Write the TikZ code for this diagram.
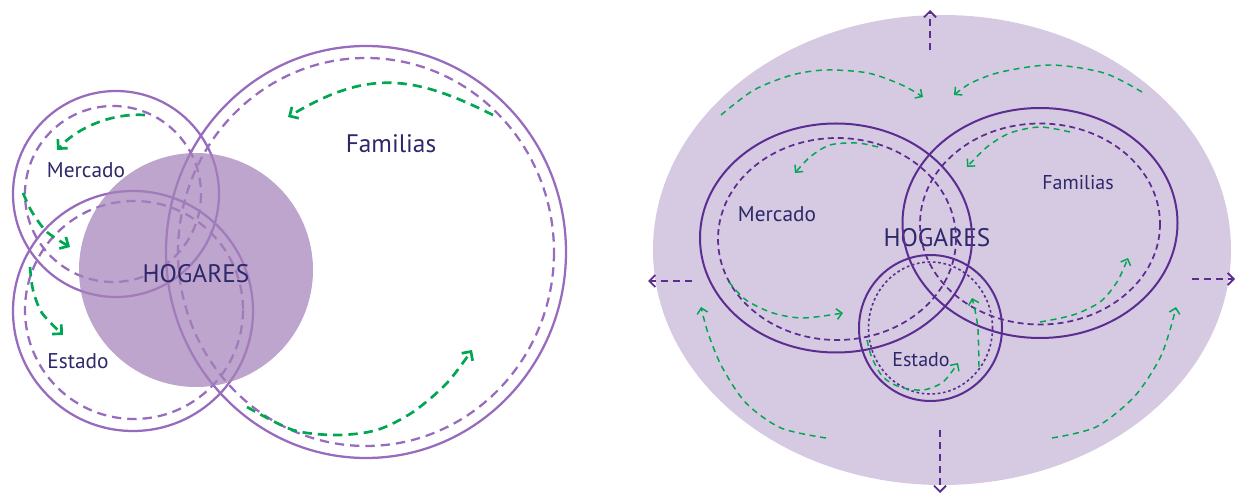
\documentclass[tikz,border=0pt]{standalone}
\usepackage{fontspec}
\setmainfont{PT Sans}
\usetikzlibrary{arrows.meta}

\definecolor{lilac}{RGB}{151,107,189}
\definecolor{plum}{RGB}{92,45,145}
\definecolor{leaf}{RGB}{0,166,81}
\definecolor{ink}{RGB}{45,40,105}
\definecolor{blob}{RGB}{166,131,186}
\definecolor{haze}{RGB}{214,201,226}

\tikzset{
  ring/.style={draw=lilac, line width=1.7pt},
  dashring/.style={draw=lilac, line width=1.7pt, dash pattern=on 7pt off 4.5pt},
  flow/.style={draw=leaf, line width=2pt, dash pattern=on 7pt off 4.5pt,
    -{Straight Barb[length=5pt,width=10pt]}},
  oval/.style={draw=plum, line width=1.5pt},
  dashoval/.style={draw=plum, line width=1.3pt, dash pattern=on 4.5pt off 3pt},
  dotoval/.style={draw=plum, line width=1.2pt, dash pattern=on 2pt off 2pt},
  spread/.style={draw=plum, line width=1.4pt, dash pattern=on 5pt off 4pt,
    -{Straight Barb[length=4.5pt,width=9pt]}},
  drift/.style={draw=leaf, line width=1.1pt, dash pattern=on 4.5pt off 3.5pt,
    -{Straight Barb[length=4pt,width=8pt]}},
  lbl/.style={text=ink, inner sep=0pt, font=\fontsize{16}{19}\selectfont},
  big/.style={lbl, font=\fontsize{19}{22}\selectfont}
}

\begin{document}
\begin{tikzpicture}[x=0.75pt, y=-0.75pt]
  \useasboundingbox (0, 0) rectangle (1236, 495);

  % left: circles around the household
  \begin{scope}
    \draw[ring] (116, 194) circle[radius=103];
    \draw[dashring] (113, 194) circle[radius=88];
    \draw[ring] (133, 311) circle[radius=120];
    \draw[dashring] (134, 310) circle[radius=109];
    \draw[ring] (366, 252) ellipse[x radius=200, y radius=206];
    \draw[dashring] (366, 252) ellipse[x radius=188, y radius=194];

    \draw[flow] (145, 115) .. controls (112, 113) and (78, 127) .. (57, 150);
    \draw[flow] plot[smooth] coordinates {(23, 193) (32, 212) (47, 232) (70, 247)};
    \draw[flow] plot[smooth] coordinates {(30, 267) (33, 290) (42, 313) (63, 335)};
    \draw[flow] (493, 115) .. controls (413, 75) and (368, 69) .. (288, 117);
    \draw[flow] plot[smooth] coordinates {(247, 407) (293, 430) (337, 435) (377, 430) (413, 412) (447, 383) (472, 350)};

    \fill[blob, fill opacity=0.73] (196, 270) circle[radius=117];
    \node[big] (hogL) at (196, 274) {HOGARES};
    \node[lbl] (merL) at (86, 170) {Mercado};
    \node[lbl] (estL) at (78, 361) {Estado};
    \node[lbl, font=\fontsize{19}{22}\selectfont] (famL) at (391, 144) {Familias};
  \end{scope}

  % right: the spheres inside the household
  \begin{scope}[shift={(640, 0)}]
    \fill[haze] (302, 250) ellipse[x radius=289, y radius=235];
    \node[big] (hogR) at (297, 238) {HOGARES};
    \node[lbl] (merR) at (137, 214) {Mercado};
    \node[lbl, font=\fontsize{15}{18}\selectfont] (famR) at (438, 183) {Familias};
    \node[lbl, font=\fontsize{15}{18}\selectfont] (estR) at (281, 360) {Estado};

    \draw[oval] (196, 238) ellipse[x radius=136, y radius=114.5];
    \draw[dashoval] (197, 239) ellipse[x radius=119, y radius=101];
    \draw[oval] (400, 223) ellipse[x radius=137.5, y radius=115];
    \draw[dashoval] (400, 224) ellipse[x radius=120, y radius=100.5];
    \draw[oval] (290.5, 328) ellipse[x radius=71.5, y radius=73];
    \draw[dotoval] (290.5, 328) ellipse[x radius=62, y radius=66];

    \coordinate (up0) at (290, 50);   \coordinate (up1) at (290, 10);
    \coordinate (dn0) at (300, 430);  \coordinate (dn1) at (300, 493);
    \coordinate (lf0) at (52, 281);   \coordinate (lf1) at (8, 281);
    \coordinate (rt0) at (552, 279);  \coordinate (rt1) at (595, 279);
    \draw[spread] (up0) -- (up1);
    \draw[spread] (dn0) -- (dn1);
    \draw[spread] (lf0) -- (lf1);
    \draw[spread] (rt0) -- (rt1);

    \draw[drift] plot[smooth] coordinates {(81, 115) (114, 90) (152, 75) (186, 70) (228, 73) (262, 85) (283, 97)};
    \draw[drift] plot[smooth] coordinates {(502, 92) (464, 73) (411, 65) (361, 72) (331, 83) (314, 95)};
    \draw[drift] plot[smooth] coordinates {(186, 438) (141, 428) (106, 403) (82, 367) (68, 333) (61, 307)};
    \draw[drift] plot[smooth] coordinates {(412, 438) (456, 427) (494, 397) (519, 360) (530, 330) (536, 307)};
    \draw[drift] plot[smooth] coordinates {(238, 147) (217, 143) (190, 145) (170, 157) (155, 173)};
    \draw[drift] plot[smooth] coordinates {(89, 282) (106, 300) (133, 313) (163, 318) (203, 313)};
    \draw[drift] plot[smooth] coordinates {(430, 132) (400, 127) (370, 133) (347, 147) (327, 167)};
    \draw[drift] plot[smooth] coordinates {(400, 322) (433, 315) (460, 302) (477, 282) (488, 258)};
    \draw[drift] plot[smooth] coordinates {(339, 367) (338, 330) (335, 310) (332, 298)};
    \draw[drift] plot[smooth] coordinates {(227, 340) (232, 358) (243, 377) (260, 387) (283, 390) (303, 382) (318, 363)};
  \end{scope}
\end{tikzpicture}
\end{document}
